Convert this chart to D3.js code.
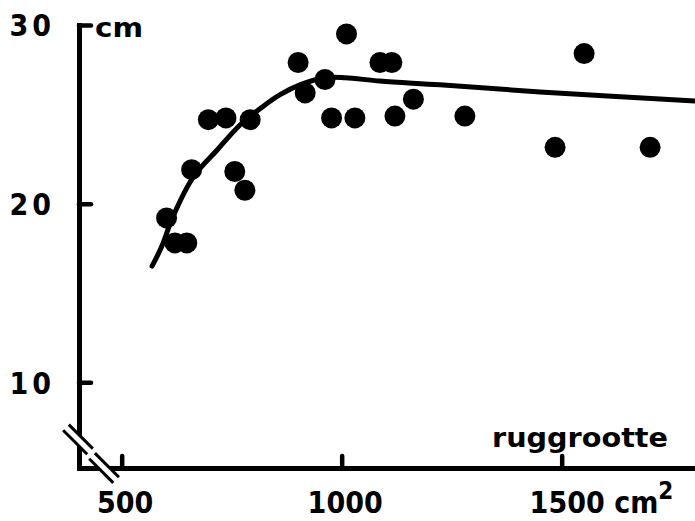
<!DOCTYPE html>
<html>
<head>
<meta charset="utf-8">
<script src="https://cdn.jsdelivr.net/npm/d3@7"></script>
<style>
  body { margin: 0; background: #fff; }
  text { font-family: "DejaVu Sans Condensed", "DejaVu Sans", sans-serif; font-stretch: condensed; font-weight: bold; fill: #000; }
</style>
</head>
<body>
<div id="wrapper"></div>
<script>
// measured points: back size (cm2) vs length (cm)
const ruggrootte = [697, 737, 792, 659, 757, 780, 602, 621, 648, 1011, 901, 1087, 1114, 962, 917, 1163, 977, 1030, 1121, 1280, 1551, 1485, 1701];
const lengte = [24.7, 24.8, 24.7, 21.9, 21.8, 20.75, 19.2, 17.8, 17.8, 29.5, 27.9, 27.9, 27.9, 26.95, 26.2, 25.85, 24.8, 24.8, 24.9, 24.9, 28.4, 23.15, 23.15];

// fitted curve
const curveX = [569, 591, 617, 663, 717, 769, 819, 860, 905, 962, 1008, 1087, 1223, 1451, 1803];
const curveY = [16.5, 17.6, 19.3, 21.5, 23.0, 24.4, 25.4, 26.1, 26.65, 27.05, 27.05, 26.86, 26.65, 26.25, 25.75];

const xTicks = [500, 1000, 1500];
const yTicks = [10, 20, 30];

const width = 695, height = 521;

const svg = d3.select("#wrapper")
	.append("svg")
	.attr("width", width)
	.attr("height", height);

const xScale = d3.scaleLinear().domain([403, 1803]).range([79, 695]);
const yScale = d3.scaleLinear().domain([5.2, 30]).range([468, 25]);

/* axes */
const xAxis = svg.append("g")
	.attr("transform", "translate(0," + yScale(5.2) + ")")
	.call(d3.axisBottom(xScale).tickValues(xTicks).tickFormat(d3.format("d"))
		.tickSize(-12).tickSizeOuter(0).tickPadding(24));

const yAxis = svg.append("g")
	.attr("transform", "translate(" + xScale(403) + ",0)")
	.call(d3.axisLeft(yScale).tickValues(yTicks).tickSize(-12).tickSizeOuter(0).tickPadding(24));

[xAxis, yAxis].forEach(function(ax){
	ax.select(".domain").attr("stroke", "#000").attr("stroke-width", 5).attr("stroke-linecap", "square");
	ax.selectAll(".tick line").attr("stroke", "#000").attr("stroke-width", 4.5).attr("stroke-linecap", "round");
	ax.selectAll("text").attr("fill", "#000");
});

xAxis.selectAll("text").attr("font-size", 30).attr("dx", 3);
yAxis.selectAll("text").attr("font-size", 30).attr("letter-spacing", 4).attr("dy", "0.36em");

// "1500 cm2" - keep 1500 centred on its tick
xAxis.selectAll(".tick text").filter(function(d){ return d === 1500; })
	.each(function(){
		const t = d3.select(this);
		const w = this.getComputedTextLength();
		t.attr("text-anchor", "start").attr("x", -w / 2 + 2);
		t.append("tspan").text(" cm");
		t.append("tspan").attr("font-size", 24).attr("dy", -14).text("2");
	});

/* axis breaks */
function axisBreak(cx, cy) {
	const g = svg.append("g").attr("transform", "translate(" + cx + "," + cy + ") rotate(45)");
	g.append("rect").attr("x", -17).attr("y", -3.5).attr("width", 34).attr("height", 7).attr("fill", "#fff");
	[-4, 4].forEach(function(o){
		g.append("line")
			.attr("x1", -17).attr("x2", 17)
			.attr("y1", o).attr("y2", o)
			.attr("stroke", "#000").attr("stroke-width", 3);
	});
}
axisBreak(xScale(403) - 1, yScale(6.8));
axisBreak(xScale(460), yScale(5.2));

/* axis titles */
svg.append("text")
	.attr("x", 95).attr("y", 37)
	.attr("font-size", 27)
	.attr("textLength", 48).attr("lengthAdjust", "spacingAndGlyphs")
	.text("cm");

svg.append("text")
	.attr("x", 492).attr("y", 447)
	.attr("font-size", 27)
	.attr("textLength", 176).attr("lengthAdjust", "spacingAndGlyphs")
	.text("ruggrootte");

/* curve */
const line = d3.line()
	.x(function(d){ return xScale(d[0]); })
	.y(function(d){ return yScale(d[1]); })
	.curve(d3.curveCatmullRom.alpha(0.5));

svg.append("path")
	.datum(d3.zip(curveX, curveY))
	.attr("d", line)
	.attr("fill", "none")
	.attr("stroke", "#000")
	.attr("stroke-width", 5)
	.attr("stroke-linecap", "round");

/* points */
svg.selectAll(".dot")
	.data(d3.zip(ruggrootte, lengte))
	.enter()
	.append("circle")
	.attr("class", "dot")
	.attr("cx", function(d){ return xScale(d[0]); })
	.attr("cy", function(d){ return yScale(d[1]); })
	.attr("r", 10.5)
	.attr("fill", "#000");
</script>
</body>
</html>
